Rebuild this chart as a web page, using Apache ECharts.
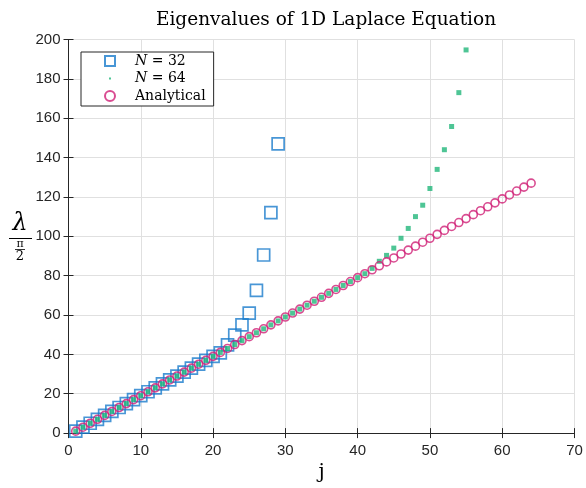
<!DOCTYPE html>
<html><head><meta charset="utf-8">
<script src="https://cdn.jsdelivr.net/npm/echarts@6/dist/echarts.min.js"></script>
<style>html,body{margin:0;padding:0;background:#fff}#c{width:586px;height:488px}</style>
</head><body><div id="c"></div>
<script>
const titleText = 'Eigenvalues of 1D Laplace Equation';
const xTicks = [0, 10, 20, 30, 40, 50, 60, 70];
const yTicks = [0, 20, 40, 60, 80, 100, 120, 140, 160, 180, 200];
const seriesNames = ['N = 32', 'N = 64', 'Analytical'];
const j32 = [1,2,3,4,5,6,7,8,9,10,11,12,13,14,15,16,17,18,19,20,21,22,23,24,25,26,27,28,29];
const lam32 = [1,3,5,7,9,11,13,15,17,19,21,23,25,27,29,31,33,35,37,39,40.8,44.8,49.8,55,61,72.5,90.5,112,147];
const j64 = [1,2,3,4,5,6,7,8,9,10,11,12,13,14,15,16,17,18,19,20,21,22,23,24,25,26,27,28,29,30,31,32,33,34,35,36,37,38,39,40,41,42,43,44,45,46,47,48,49,50,51,52,53,54,55];
const lam64 = [1,3,5,7,9,11,13,15,17,19,21,23,25,27,29,31,33,35,37,39,41,43,45,47,49,51,53,55,57,59,61,63,65,67,69,71,73,75,77,79,81,83.7,87.3,90.3,94,99,104,110,115.8,124.3,134,144,155.8,173,194.7];
const jA = [1,2,3,4,5,6,7,8,9,10,11,12,13,14,15,16,17,18,19,20,21,22,23,24,25,26,27,28,29,30,31,32,33,34,35,36,37,38,39,40,41,42,43,44,45,46,47,48,49,50,51,52,53,54,55,56,57,58,59,60,61,62,63,64];
const lamA = [1,3,5,7,9,11,13,15,17,19,21,23,25,27,29,31,33,35,37,39,41,43,45,47,49,51,53,55,57,59,61,63,65,67,69,71,73,75,77,79,81,83,85,87,89,91,93,95,97,99,101,103,105,107,109,111,113,115,117,119,121,123,125,127];

const zip = (a, b) => a.map((v, i) => [v, b[i]]);
const ax = '#262626', gridC = '#e0e0e0';
const serif = 'DejaVu Serif';
const chart = echarts.init(document.getElementById('c'), null, {renderer: 'canvas'});
const baseX = {type: 'value', min: xTicks[0], max: xTicks[xTicks.length-1], interval: 10};
const baseY = {type: 'value', min: yTicks[0], max: yTicks[yTicks.length-1], interval: 20};
chart.setOption({
  animation: false,
  backgroundColor: '#fff',
  title: {text: titleText, left: 321, top: 6, textAlign: 'center',
    textStyle: {fontFamily: serif, fontSize: 18.5, fontWeight: 'normal', color: '#000'}},
  grid: {left: 68.5, right: 11.5, top: 39.5, bottom: 48.5},
  legend: {
    orient: 'vertical', left: 81, top: 52,
    backgroundColor: '#fff', borderColor: ax, borderWidth: 1,
    padding: [2, 8, 3, 23], itemGap: 3.5, itemWidth: 10, itemHeight: 10,
    data: [
      {name: seriesNames[0], icon: 'rect'},
      {name: seriesNames[1], icon: 'path://M0,0L0,0M4,4L6,4L6,6L4,6ZM10,10L10,10'},
      {name: seriesNames[2], icon: 'circle'}
    ],
    formatter: n => n === 'Analytical' ? '{t|Analytical}' : '{i|N}{t|' + n.slice(1) + '}',
    textStyle: {fontFamily: serif, fontSize: 14, color: '#000', lineHeight: 14, padding: [0,0,0,15],
      rich: {i: {fontFamily: serif, fontStyle: 'italic', fontSize: 14, color: '#000'},
             t: {fontFamily: serif, fontSize: 14, color: '#000'}}}
  },
  xAxis: [
    Object.assign({}, baseX, {
      position: 'bottom',
      name: 'j', nameLocation: 'middle', nameGap: 24,
      nameTextStyle: {fontFamily: serif, fontSize: 20, color: '#000'},
      axisLine: {show: true, lineStyle: {color: ax, width: 1}},
      axisTick: {show: true, inside: true, length: 5, lineStyle: {color: ax}},
      axisLabel: {color: ax, fontFamily: 'Liberation Sans', fontSize: 15, margin: 10},
      splitLine: {show: true, lineStyle: {color: gridC, width: 1}}
    }),
    Object.assign({}, baseX, {
      position: 'top',
      axisLine: {show: true, lineStyle: {color: ax, width: 1}},
      axisTick: {show: true, inside: true, length: 5, lineStyle: {color: ax}},
      axisLabel: {show: false}, splitLine: {show: false}
    })
  ],
  yAxis: [
    Object.assign({}, baseY, {
      position: 'left',
      axisLine: {show: true, lineStyle: {color: ax, width: 1}},
      axisTick: {show: true, inside: true, length: 5, lineStyle: {color: ax}},
      axisLabel: {color: ax, fontFamily: 'Liberation Sans', fontSize: 15, margin: 8},
      splitLine: {show: true, lineStyle: {color: gridC, width: 1}}
    }),
    Object.assign({}, baseY, {
      position: 'right',
      axisLine: {show: true, lineStyle: {color: ax, width: 1}},
      axisTick: {show: true, inside: true, length: 5, lineStyle: {color: ax}},
      axisLabel: {show: false}, splitLine: {show: false}
    })
  ],
  graphic: [
    {type: 'text', x: 20, y: 224, style: {text: 'λ', font: 'italic 24px "DejaVu Serif"', fill: '#000', align: 'center', verticalAlign: 'middle'}},
    {type: 'line', shape: {x1: 9, y1: 238.5, x2: 32, y2: 238.5}, style: {stroke: '#000', lineWidth: 1}},
    {type: 'text', x: 20, y: 244, style: {text: 'π', font: '11px "DejaVu Serif"', fill: '#000', align: 'center', verticalAlign: 'middle'}},
    {type: 'line', shape: {x1: 15, y1: 249.5, x2: 25, y2: 249.5}, style: {stroke: '#000', lineWidth: 0.8}},
    {type: 'text', x: 20, y: 257, style: {text: '2', font: '13px "DejaVu Serif"', fill: '#000', align: 'center', verticalAlign: 'middle'}}
  ],
  series: [
    {name: seriesNames[0], type: 'scatter', data: zip(j32, lam32), symbol: 'rect', symbolSize: 12,
      itemStyle: {color: 'rgba(255,255,255,0)', borderColor: '#1a7ccc', borderWidth: 1.7}, z: 2},
    {name: seriesNames[1], type: 'scatter', data: zip(j64, lam64), symbol: 'rect', symbolSize: 5,
      itemStyle: {color: '#22b67a'}, z: 3},
    {name: seriesNames[2], type: 'scatter', data: zip(jA, lamA), symbol: 'circle', symbolSize: 8,
      itemStyle: {color: 'rgba(255,255,255,0)', borderColor: '#d01f76', borderWidth: 1.6}, z: 4}
  ]
});
</script></body></html>
